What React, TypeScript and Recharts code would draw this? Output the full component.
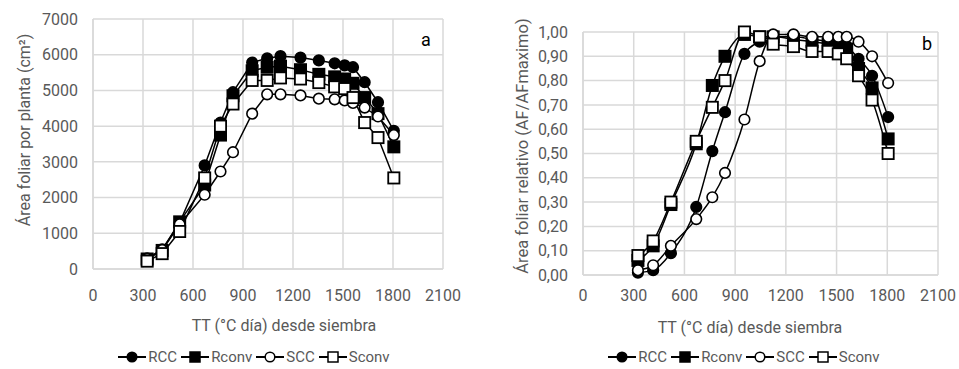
import { CartesianGrid, Line, LineChart, XAxis, YAxis } from "recharts";

const tt = [325, 415, 520, 670, 765, 840, 955, 1045, 1125, 1245, 1355, 1450, 1510, 1560, 1630, 1710, 1805];
const xTicks = [0, 300, 600, 900, 1200, 1500, 1800, 2100];
const yTicksA = [0, 1000, 2000, 3000, 4000, 5000, 6000, 7000];
const yTicksB = [0, 0.1, 0.2, 0.3, 0.4, 0.5, 0.6, 0.7, 0.8, 0.9, 1];

// área foliar por planta (cm2)
const rccA = [300, 550, 1300, 2900, 4100, 4950, 5780, 5900, 5960, 5920, 5840, 5760, 5700, 5650, 5230, 4670, 3870];
const rconvA = [280, 520, 1320, 2350, 3750, 4850, 5550, 5650, 5680, 5580, 5450, 5380, 5320, 5200, 4800, 4350, 3420];
const sccA = [280, 530, 1250, 2080, 2730, 3270, 4350, 4890, 4890, 4860, 4770, 4750, 4720, 4650, 4520, 4270, 3750];
const sconvA = [220, 430, 1050, 2550, 4000, 4620, 5280, 5280, 5350, 5320, 5220, 5100, 5050, 4800, 4100, 3680, 2550];

// área foliar relativa
const rccB = [0.01, 0.02, 0.09, 0.28, 0.51, 0.67, 0.91, 0.96, 0.98, 0.98, 0.97, 0.96, 0.95, 0.94, 0.89, 0.82, 0.65];
const rconvB = [0.06, 0.12, 0.29, 0.54, 0.78, 0.9, 0.99, 0.98, 0.98, 0.97, 0.96, 0.95, 0.94, 0.93, 0.85, 0.77, 0.56];
const sccB = [0.02, 0.04, 0.12, 0.23, 0.32, 0.42, 0.64, 0.88, 0.99, 0.99, 0.98, 0.98, 0.98, 0.98, 0.96, 0.9, 0.79];
const sconvB = [0.08, 0.14, 0.3, 0.55, 0.69, 0.8, 1.0, 0.98, 0.95, 0.94, 0.92, 0.92, 0.91, 0.89, 0.82, 0.72, 0.5];

const seriesNames = ["RCC", "Rconv", "SCC", "Sconv"];
const seriesKeys = ["rcc", "rconv", "scc", "sconv"];
const markers = ["circle", "square", "circle", "square"];
const filled = [true, true, false, false];

const dataA = tt.map((x, i) => ({ x, rcc: rccA[i], rconv: rconvA[i], scc: sccA[i], sconv: sconvA[i] }));
const dataB = tt.map((x, i) => ({ x, rcc: rccB[i], rconv: rconvB[i], scc: sccB[i], sconv: sconvB[i] }));

const FONT = "'Liberation Sans Narrow', 'Roboto', sans-serif";
const GREY = "#595959";
const GRID = "#d9d9d9";

function makeDot(shape: string, fill: boolean) {
  return (props: any) => {
    const { cx, cy, index } = props;
    if (cx == null || cy == null) return <g key={index} />;
    const f = fill ? "#000" : "#fff";
    if (shape === "circle")
      return <circle key={index} cx={cx} cy={cy} r={5.3} fill={f} stroke="#000" strokeWidth={1.6} />;
    return <rect key={index} x={cx - 5.6} y={cy - 5.6} width={11.2} height={11.2} fill={f} stroke="#000" strokeWidth={1.8} />;
  };
}

function LegendRow({ left, top, width }: { left: number; top: number; width: number }) {
  return (
    <div
      style={{
        position: "absolute",
        left,
        top,
        width,
        display: "flex",
        justifyContent: "center",
        alignItems: "center",
        fontFamily: FONT,
        fontSize: 15,
        color: GREY,
      }}
    >
      {seriesNames.map((n, i) => (
        <div key={n} style={{ display: "flex", alignItems: "center", marginRight: 3 }}>
          <svg width={30} height={14}>
            <line x1={1} y1={7} x2={29} y2={7} stroke="#000" strokeWidth={2} />
            {markers[i] === "circle" ? (
              <circle cx={15} cy={7} r={4.8} fill={filled[i] ? "#000" : "#fff"} stroke="#000" strokeWidth={1.5} />
            ) : (
              <rect x={10} y={2} width={10} height={10} fill={filled[i] ? "#000" : "#fff"} stroke="#000" strokeWidth={1.5} />
            )}
          </svg>
          <span style={{ marginLeft: 1 }}>{n}</span>
        </div>
      ))}
    </div>
  );
}

function Title({ x, y, text, rotate, size = 16 }: { x: number; y: number; text: string; rotate?: boolean; size?: number }) {
  return (
    <div
      style={{
        position: "absolute",
        left: x,
        top: y,
        transform: `translate(-50%, -50%)${rotate ? " rotate(-90deg)" : ""}`,
        whiteSpace: "nowrap",
        fontFamily: FONT,
        fontSize: size,
        color: size === 18 ? "#000" : GREY,
        lineHeight: 1,
      }}
    >
      {text}
    </div>
  );
}

const tickStyle = { fontFamily: FONT, fontSize: 16, fill: GREY };

export default function App() {
  return (
    <div style={{ position: "absolute", left: 0, top: 0, width: 959, height: 369, background: "#fff" }}>
      <div style={{ position: "absolute", left: 0, top: 0 }}>
        <LineChart width={470} height={369} data={dataA} margin={{ top: 19, right: 27, bottom: 70, left: 0 }}>
          <CartesianGrid stroke={GRID} strokeWidth={1.5} />
          <XAxis
            dataKey="x"
            type="number"
            domain={[0, 2100]}
            ticks={xTicks}
            height={30}
            tick={tickStyle}
            tickLine={false}
            tickMargin={15}
            axisLine={{ stroke: GRID, strokeWidth: 1.5 }}
          />
          <YAxis
            type="number"
            domain={[0, 7000]}
            ticks={yTicksA}
            width={93}
            tick={tickStyle}
            tickLine={false}
            tickMargin={9}
            axisLine={{ stroke: GRID, strokeWidth: 1.5 }}
          />
          {seriesKeys.map((k, i) => (
            <Line
              key={k}
              type="linear"
              dataKey={k}
              stroke="#000"
              strokeWidth={1.5}
              dot={makeDot(markers[i], filled[i])}
              isAnimationActive={false}
            />
          ))}
        </LineChart>
      </div>
      <div style={{ position: "absolute", left: 480, top: 0 }}>
        <LineChart width={479} height={369} data={dataB} margin={{ top: 32, right: 21, bottom: 64, left: 0 }}>
          <CartesianGrid stroke={GRID} strokeWidth={1.5} />
          <XAxis
            dataKey="x"
            type="number"
            domain={[0, 2100]}
            ticks={xTicks}
            height={30}
            tick={tickStyle}
            tickLine={false}
            tickMargin={9}
            axisLine={{ stroke: GRID, strokeWidth: 1.5 }}
          />
          <YAxis
            type="number"
            domain={[0, 1]}
            ticks={yTicksB}
            width={103}
            tick={tickStyle}
            tickLine={false}
            tickMargin={9}
            tickFormatter={(v: number) => v.toFixed(2).replace(".", ",")}
            axisLine={{ stroke: GRID, strokeWidth: 1.5 }}
          />
          {seriesKeys.map((k, i) => (
            <Line
              key={k}
              type="monotone"
              dataKey={k}
              stroke="#000"
              strokeWidth={1.5}
              dot={makeDot(markers[i], filled[i])}
              isAnimationActive={false}
            />
          ))}
        </LineChart>
      </div>
      <Title x={25} y={130} text="Área foliar por planta (cm²)" rotate />
      <Title x={523} y={146} text="Área foliar relativo (AF/AFmaximo)" rotate size={16.5} />
      <Title x={284} y={326} text="TT (°C día) desde siembra" />
      <Title x={750} y={328} text="TT (°C día) desde siembra" />
      <Title x={426} y={40} text="a" size={18} />
      <Title x={927} y={44} text="b" size={18} />
      <LegendRow left={0} top={348} width={510} />
      <LegendRow left={480} top={348} width={530} />
    </div>
  );
}
